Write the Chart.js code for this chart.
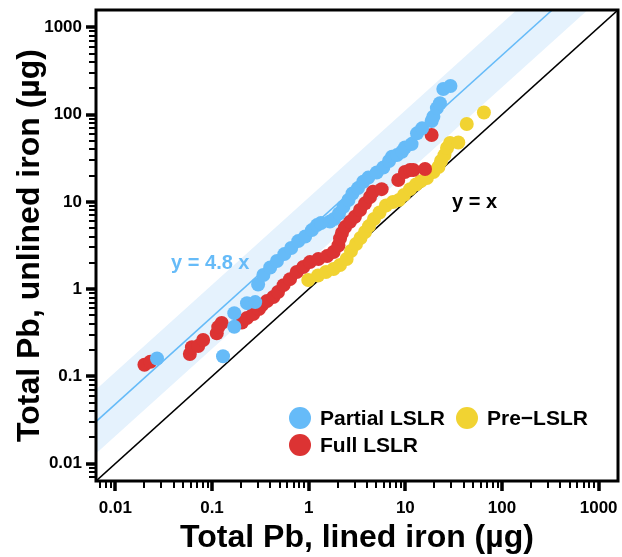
<!DOCTYPE html>
<html>
<head>
<meta charset="utf-8">
<script src="https://cdn.jsdelivr.net/npm/chart.js@4.4.1/dist/chart.umd.min.js"></script>
<style>
  html, body { margin: 0; padding: 0; background: #fff; }
  canvas { display: block; }
</style>
</head>
<body>
<canvas id="pbChart" width="622" height="557"></canvas>
<script>
// Total Pb (µg) per sample: lined iron (x) vs unlined iron (y)
const partialX = [0.027, 0.13, 0.17, 0.17, 0.23, 0.28, 0.30, 0.34, 0.40, 0.47, 0.56, 0.66, 0.78, 0.92,
  1.08, 1.22, 1.34, 1.66, 1.83, 2.06, 2.29, 2.58, 2.84, 3.24, 3.67, 4.14, 5.06, 5.92, 6.78, 7.28,
  8.20, 9.23, 9.91, 11.6, 13.2, 14.9, 18.7, 19.5, 21.2, 22.8, 24.7, 29.3];
const partialY = [0.16, 0.17, 0.37, 0.53, 0.69, 0.71, 1.13, 1.45, 1.77, 2.10, 2.52, 2.96, 3.55, 4.01,
  4.75, 5.42, 5.72, 5.95, 6.36, 7.35, 8.80, 10.5, 12.5, 14.4, 17.0, 19.0, 21.7, 24.8, 29.4, 33.0,
  34.4, 37.6, 42.0, 46.0, 61.1, 69.7, 84.5, 94.7, 119, 135, 197, 213];

const fullX = [0.020, 0.023, 0.059, 0.062, 0.072, 0.081, 0.112, 0.116, 0.126, 0.204, 0.230, 0.267,
  0.306, 0.329, 0.371, 0.431, 0.482, 0.550, 0.641, 0.752, 0.879, 1.03, 1.26, 1.55, 1.81, 2.03,
  2.11, 2.21, 2.38, 2.68, 3.01, 3.40, 3.83, 4.31, 4.63, 5.69, 8.45, 9.91, 11.2, 12.1, 16.0, 18.7];
const fullY = [0.136, 0.147, 0.180, 0.216, 0.222, 0.261, 0.311, 0.367, 0.408, 0.413, 0.466, 0.518,
  0.590, 0.656, 0.730, 0.811, 0.925, 1.11, 1.30, 1.57, 1.79, 2.04, 2.21, 2.39, 2.66, 3.16,
  3.80, 4.39, 5.14, 5.92, 6.76, 8.06, 9.62, 11.4, 13.1, 14.0, 17.8, 22.0, 23.2, 23.2, 23.8, 58.4];

const preX = [0.99, 1.25, 1.51, 1.81, 2.11, 2.47, 2.74, 3.09, 3.44, 3.83, 4.21, 4.74, 5.41, 6.31,
  7.45, 8.59, 9.68, 11.2, 12.9, 14.5, 16.7, 19.5, 22.0, 23.4, 25.4, 27.0, 29.0, 35.3, 43.2, 65.0];
const preY = [1.27, 1.43, 1.57, 1.70, 1.89, 2.21, 2.73, 3.29, 3.85, 4.51, 5.28, 6.36, 7.55, 9.08,
  9.96, 10.5, 12.0, 14.0, 15.8, 17.3, 18.8, 22.0, 25.1, 29.4, 34.4, 41.4, 47.3, 48.0, 78.1, 106];

const majorTicks = [0.01, 0.1, 1, 10, 100, 1000];
const tickLabels = ['0.01', '0.1', '1', '10', '100', '1000'];

// fitted ratio and its band
const fitSlope = 4.8;
const bandLow = 2.06;
const bandHigh = 11.2;

const axisMin = Math.pow(10, -2.2);
const axisMax = Math.pow(10, 3.2);

const BLUE = '#66bbf8';
const RED = '#dc3333';
const YELLOW = '#f1d332';
const BAND = '#e5f2fd';
const FONT = "'Liberation Sans', Arial, Helvetica, sans-serif";

function toPoints(xs, ys) {
  return xs.map((x, i) => ({ x: x, y: ys[i] }));
}

function lineThrough(k) {
  return [{ x: axisMin, y: k * axisMin }, { x: axisMax, y: k * axisMax }];
}

function refLine(data, color, width, order, fill) {
  return {
    type: 'line',
    data: data,
    borderColor: color,
    borderWidth: width,
    backgroundColor: BAND,
    pointRadius: 0,
    fill: fill || false,
    clip: 0,
    order: order
  };
}

function scatterSet(label, xs, ys, color, order) {
  return {
    label: label,
    data: toPoints(xs, ys),
    backgroundColor: color,
    borderWidth: 0,
    pointRadius: 7,
    pointHoverRadius: 7,
    order: order
  };
}

// frame, log ticks, annotations and legend
const decorations = {
  id: 'decorations',
  afterDraw(chart) {
    const { ctx, chartArea: a, scales } = chart;
    const xs = scales.x, ys = scales.y;
    ctx.save();
    ctx.strokeStyle = '#000';

    for (let e = -3; e <= 3; e++) {
      for (let k = 1; k <= 9; k++) {
        const v = k * Math.pow(10, e);
        if (v < axisMin || v > axisMax) continue;
        const major = k === 1;
        const len = major ? 10 : 7;
        ctx.lineWidth = major ? 3.5 : 2;
        const px = Math.round(xs.getPixelForValue(v));
        const py = Math.round(ys.getPixelForValue(v));
        ctx.beginPath();
        ctx.moveTo(px, a.bottom);
        ctx.lineTo(px, a.bottom + len);
        ctx.moveTo(a.left, py);
        ctx.lineTo(a.left - len, py);
        ctx.stroke();
      }
    }

    ctx.lineWidth = 3;
    ctx.strokeRect(a.left, a.top, a.right - a.left, a.bottom - a.top);

    ctx.textBaseline = 'middle';
    ctx.font = 'bold 20px ' + FONT;
    ctx.textAlign = 'center';
    ctx.fillStyle = BLUE;
    ctx.fillText('y = 4.8 x', xs.getPixelForValue(0.096), ys.getPixelForValue(1.95));
    ctx.fillStyle = '#000';
    ctx.fillText('y = x', xs.getPixelForValue(52), ys.getPixelForValue(9.8));

    const entries = [
      { label: 'Partial LSLR', color: BLUE, x: a.left + 204, y: a.bottom - 63 },
      { label: 'Pre\u2212LSLR', color: YELLOW, x: a.left + 371, y: a.bottom - 63 },
      { label: 'Full LSLR', color: RED, x: a.left + 204, y: a.bottom - 36 }
    ];
    ctx.font = 'bold 21px ' + FONT;
    ctx.textAlign = 'left';
    entries.forEach(en => {
      ctx.fillStyle = en.color;
      ctx.beginPath();
      ctx.arc(en.x, en.y, 11, 0, Math.PI * 2);
      ctx.fill();
      ctx.fillStyle = '#000';
      ctx.fillText(en.label, en.x + 20, en.y + 1);
    });
    ctx.restore();
  }
};

function logAxis(title, isX) {
  return {
    type: 'logarithmic',
    min: axisMin,
    max: axisMax,
    afterBuildTicks: s => { s.ticks = majorTicks.map(v => ({ value: v, major: true })); },
    afterFit: s => {
      if (isX) s.height = 76; else s.width = 96;
      // labels sit well inside the frame, so no extra room is needed
      s.paddingTop = s.paddingBottom = s.paddingLeft = s.paddingRight = 0;
    },
    grid: { display: false, drawTicks: false },
    border: { display: false },
    ticks: {
      autoSkip: false,
      maxRotation: 0,
      padding: isX ? 17 : 14,
      color: '#000',
      font: { family: FONT, size: 17, weight: 'bold' },
      callback: v => tickLabels[majorTicks.indexOf(v)]
    },
    title: {
      display: true,
      text: title,
      color: '#000',
      font: { family: FONT, size: 32, weight: 'bold' },
      padding: isX ? { top: 0, bottom: 0 } : { top: 11, bottom: 0 }
    }
  };
}

new Chart(document.getElementById('pbChart'), {
  type: 'scatter',
  data: {
    datasets: [
      scatterSet('Partial LSLR', partialX, partialY, BLUE, 1),
      scatterSet('Full LSLR', fullX, fullY, RED, 2),
      scatterSet('Pre\u2212LSLR', preX, preY, YELLOW, 3),
      refLine(lineThrough(fitSlope), BLUE, 1.5, 7),
      refLine(lineThrough(1), '#000', 1.6, 8),
      refLine(lineThrough(bandHigh), 'rgba(0,0,0,0)', 0, 10, '+1'),
      refLine(lineThrough(bandLow), 'rgba(0,0,0,0)', 0, 11)
    ]
  },
  options: {
    responsive: false,
    animation: false,
    layout: { autoPadding: false, padding: { top: 10, right: 4, left: 0, bottom: 0 } },
    plugins: {
      legend: { display: false },
      tooltip: { enabled: false }
    },
    scales: {
      x: logAxis('Total Pb, lined iron (µg)', true),
      y: logAxis('Total Pb, unlined iron (µg)', false)
    }
  },
  plugins: [decorations]
});
</script>
</body>
</html>
